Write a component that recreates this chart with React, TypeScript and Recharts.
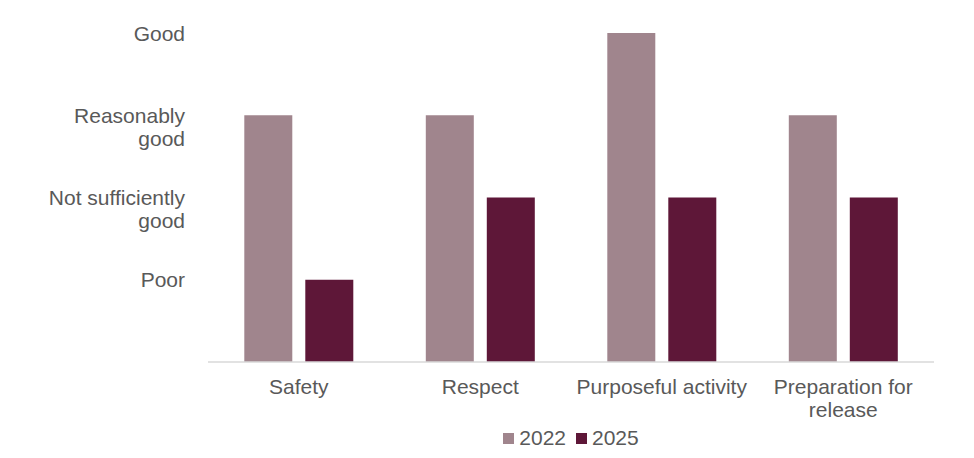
import React from 'react'
import { BarChart, Bar, XAxis, YAxis, Legend } from 'recharts'

// Rating scale: 1 = Poor ... 4 = Good
const categories = ['Safety', 'Respect', 'Purposeful activity', 'Preparation for release']
const ratings2022 = [3, 3, 4, 3]
const ratings2025 = [1, 2, 2, 2]
const ratingTicks = [1, 2, 3, 4]
const ratingLabels: string[][] = [['Poor'], ['Not sufficiently', 'good'], ['Reasonably', 'good'], ['Good']]

const COLOR_2022 = '#A0858D'
const COLOR_2025 = '#5E1738'
const TEXT = '#595959'
const FONT = '"Liberation Sans", Arial, sans-serif'
const FONT_SIZE = 21

const data = categories.map((name, i) => ({
  name,
  y2022: ratings2022[i],
  y2025: ratings2025[i],
}))

// naive word wrap by character count
function wrap(text: string, maxChars: number) {
  const lines: string[] = []
  let cur = ''
  for (const w of text.split(' ')) {
    const next = cur ? cur + ' ' + w : w
    if (next.length > maxChars && cur) {
      lines.push(cur)
      cur = w
    } else {
      cur = next
    }
  }
  if (cur) lines.push(cur)
  return lines
}

function XTick({ x, y, payload }: any) {
  const lines = wrap(payload.value, 19)
  return (
    <text x={x} y={y + 24} textAnchor="middle" fill={TEXT} fontSize={FONT_SIZE} fontFamily={FONT}>
      {lines.map((l, i) => (
        <tspan key={i} x={x} dy={i === 0 ? 0 : 23}>{l}</tspan>
      ))}
    </text>
  )
}

function YTick({ x, y, payload }: any) {
  const lines = ratingLabels[ratingTicks.indexOf(payload.value)] || []
  return (
    <text x={x} y={y + 7.5} textAnchor="end" fill={TEXT} fontSize={FONT_SIZE} fontFamily={FONT}>
      {lines.map((l, i) => (
        <tspan key={i} x={x} dy={i === 0 ? 0 : 23}>{l}</tspan>
      ))}
    </text>
  )
}

function LegendContent() {
  const items = [
    { label: '2022', color: COLOR_2022 },
    { label: '2025', color: COLOR_2025 },
  ]
  return (
    <div style={{ height: 28, display: 'flex', justifyContent: 'center', lineHeight: '16px' }}>
      {items.map((it, i) => (
        <div key={it.label} style={{ display: 'flex', alignItems: 'center', marginLeft: i ? 10 : 0, height: 16 }}>
          <div style={{ width: 11, height: 11, background: it.color, marginRight: 5 }} />
          <span style={{ color: TEXT, fontSize: FONT_SIZE, fontFamily: FONT }}>{it.label}</span>
        </div>
      ))}
    </div>
  )
}

export default function App() {
  return (
    <div style={{ position: 'absolute', top: 0, left: 0, width: 974, height: 458, background: '#fff' }}>
      <BarChart
        width={974}
        height={458}
        data={data}
        margin={{ top: 33, right: 40, bottom: 0, left: 0 }}
        barCategoryGap="20%"
        barGap={13}
      >
        <XAxis
          dataKey="name"
          axisLine={{ stroke: '#D9D9D9', strokeWidth: 1.5 }}
          tickLine={false}
          tick={<XTick />}
          height={68}
          interval={0}
        />
        <YAxis
          type="number"
          domain={[0, 4]}
          ticks={ratingTicks}
          axisLine={false}
          tickLine={false}
          tickMargin={17}
          width={208}
          tick={<YTick />}
        />
        <Legend verticalAlign="bottom" content={<LegendContent />} wrapperStyle={{ left: 208, width: 726 }} />
        <Bar dataKey="y2022" name="2022" fill={COLOR_2022} isAnimationActive={false} />
        <Bar dataKey="y2025" name="2025" fill={COLOR_2025} isAnimationActive={false} />
      </BarChart>
    </div>
  )
}
